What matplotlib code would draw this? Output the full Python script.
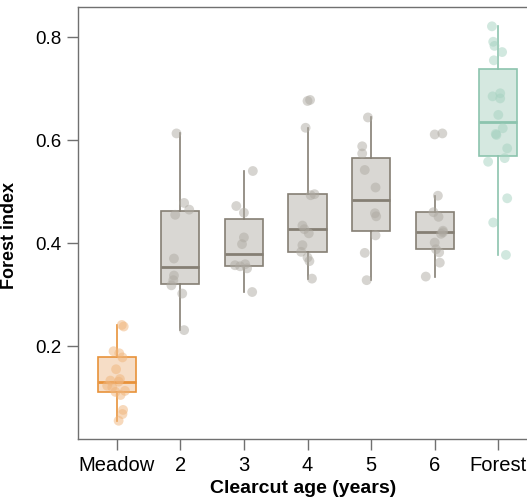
import matplotlib.pyplot as plt

plt.rcParams['font.family'] = ['Liberation Sans', 'DejaVu Sans']

groups = ['Meadow', '2', '3', '4', '5', '6', 'Forest']

meadow = [0.055, 0.068, 0.076, 0.105, 0.111, 0.113, 0.120, 0.123, 0.131,
          0.133, 0.136, 0.155, 0.178, 0.186, 0.190, 0.238, 0.241]
age2 = [0.231, 0.302, 0.318, 0.328, 0.337, 0.370, 0.455, 0.465, 0.478, 0.613]
age3 = [0.305, 0.351, 0.355, 0.357, 0.359, 0.398, 0.411, 0.459, 0.472, 0.540]
age4 = [0.331, 0.365, 0.372, 0.383, 0.396, 0.419, 0.427, 0.434, 0.493,
        0.495, 0.624, 0.676, 0.678]
age5 = [0.328, 0.381, 0.415, 0.452, 0.458, 0.508, 0.542, 0.574, 0.588, 0.644]
age6 = [0.335, 0.362, 0.382, 0.388, 0.401, 0.418, 0.421, 0.424, 0.451,
        0.460, 0.492, 0.611, 0.613]
forest = [0.377, 0.440, 0.487, 0.558, 0.565, 0.584, 0.610, 0.612, 0.623,
          0.649, 0.681, 0.685, 0.691, 0.755, 0.771, 0.783, 0.791, 0.821]

# horizontal jitter (category units)
meadow_dx = [0.03, 0.09, 0.10, 0.06, -0.02, 0.13, -0.07, -0.15, 0.03,
             -0.10, 0.05, -0.01, 0.09, 0.04, -0.05, 0.11, 0.08]
age2_dx = [0.06, 0.03, -0.14, -0.11, -0.10, -0.10, -0.08, 0.14, 0.06, -0.06]
age3_dx = [0.13, 0.05, -0.06, -0.14, 0.02, -0.03, 0.0, 0.0, -0.12, 0.14]
age4_dx = [0.07, 0.03, 0.0, -0.10, -0.08, 0.02, -0.05, -0.08, 0.05, 0.11,
           -0.03, 0.0, 0.04]
age5_dx = [-0.07, -0.10, 0.07, 0.08, 0.06, 0.07, -0.10, -0.14, -0.14, -0.05]
age6_dx = [-0.14, 0.08, 0.07, 0.02, 0.0, 0.10, 0.13, 0.13, 0.06, -0.02,
           0.05, 0.0, 0.12]
forest_dx = [0.12, -0.08, 0.14, -0.16, 0.10, 0.14, -0.03, -0.04, 0.07, 0.0,
             0.03, -0.09, 0.03, -0.07, 0.06, -0.06, -0.08, -0.10]

data = [meadow, age2, age3, age4, age5, age6, forest]
jitter = [meadow_dx, age2_dx, age3_dx, age4_dx, age5_dx, age6_dx, forest_dx]

orange = ('#e8923a', '#f6ddc6', '#f0b47a')
gray = ('#857f74', '#d9d7d3', '#aeaaa2')
green = ('#8cc4ae', '#d5e8e0', '#a5d2c0')
colors = [orange, gray, gray, gray, gray, gray, green]

fig = plt.figure(figsize=(5.27, 5.01), dpi=100)
ax = fig.add_axes([0.1486, 0.1232, 0.8533, 0.8623])

for i, (vals, dx, (edge, face, pt)) in enumerate(zip(data, jitter, colors)):
    ax.boxplot(vals, positions=[i], widths=0.6, patch_artist=True,
               showfliers=False, showcaps=False,
               boxprops=dict(facecolor=face, edgecolor=edge, linewidth=1.2),
               whiskerprops=dict(color=edge, linewidth=1.2),
               medianprops=dict(color=edge, linewidth=2.0))
    ax.scatter([i + d for d in dx], vals, s=50, color=pt, alpha=0.5,
               edgecolors='none', zorder=3)

ax.set_xlim(-0.604, 6.467)
ax.set_ylim(0.019, 0.858)
ax.set_xticks(range(len(groups)))
ax.set_xticklabels(groups)
ax.set_yticks([0.2, 0.4, 0.6, 0.8])
ax.set_yticklabels(['0.2', '0.4', '0.6', '0.8'])

for s in ax.spines.values():
    s.set_color('#707070')
    s.set_linewidth(1.0)
ax.tick_params(axis='both', length=8, width=1.0, color='#707070', pad=4)
ax.tick_params(axis='x', labelsize=14.5)
ax.tick_params(axis='y', labelsize=13.5)

ax.set_xlabel('Clearcut age (years)', fontsize=14, fontweight='bold', labelpad=4)
ax.set_ylabel('Forest index', fontsize=13, fontweight='bold')
ax.yaxis.set_label_coords(-0.134, 0.472)

fig.savefig('out.png', dpi=100)
